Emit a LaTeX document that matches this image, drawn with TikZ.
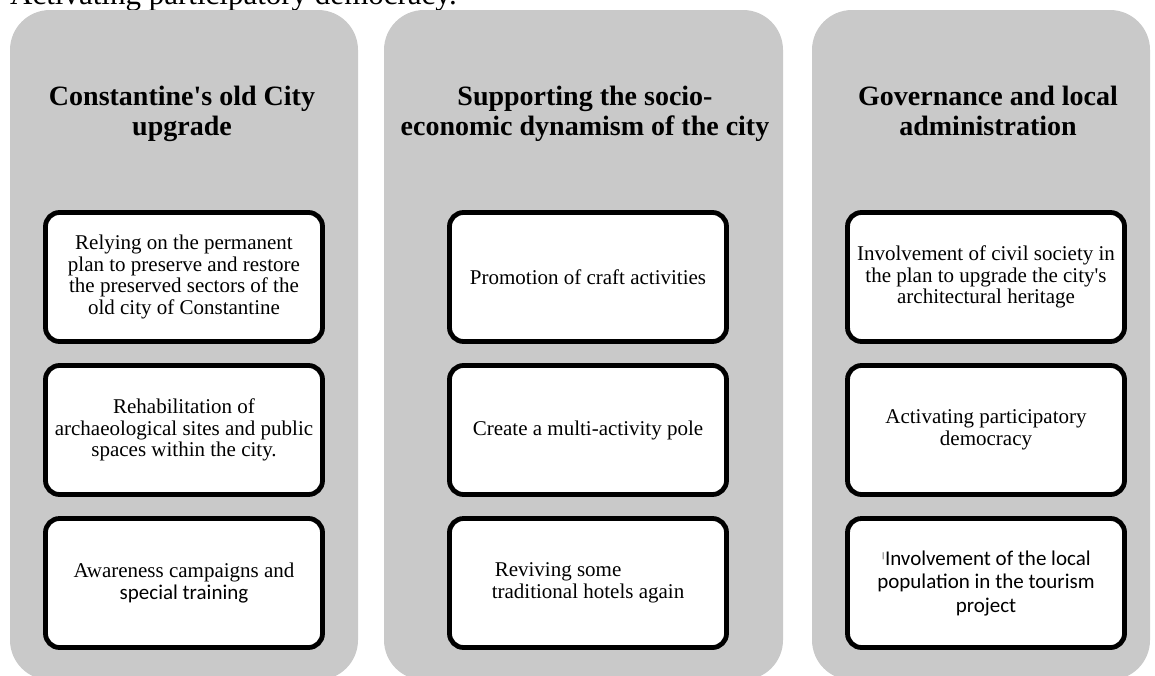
\documentclass[tikz,border=0pt]{standalone}
\usepackage{fontspec}
\setmainfont{Liberation Serif}[Ligatures=TeXOff]
\newfontfamily\calfont{Carlito}
\usetikzlibrary{positioning}
\definecolor{panelgray}{RGB}{201,201,201}

\begin{document}
\begin{tikzpicture}[x=1pt,y=-1pt,
    column/.style={fill=panelgray,rectangle,rounded corners=40pt,minimum height=670pt,inner sep=0pt,outer sep=0pt},
    head/.style={align=center,anchor=north,inner sep=0pt,font=\fontsize{28}{30}\selectfont\bfseries},
    item/.style={draw,line width=4.8pt,fill=white,rectangle,rounded corners=14pt,minimum width=277pt,minimum height=129pt,outer sep=0pt,align=center,font=\fontsize{21}{21.5}\selectfont},
    node distance=24pt]
  \useasboundingbox (0,0) rectangle (1155,675);

  % the three panels
  \node[column,minimum width=348pt] (col1) at (184,345) {};
  \node[column,minimum width=399pt] (col2) at (583.5,345) {};
  \node[column,minimum width=338pt] (col3) at (981,345) {};

  \begin{scope}
    \clip (0,0) rectangle (1155,9.5);
    \node[anchor=base west,inner sep=0pt,font=\fontsize{31}{33}\selectfont] (lead) at (10,4.5) {Activating participatory democracy.};
  \end{scope}

  \node[head] (head1) at (182,86) {Constantine's old City\\upgrade};
  \node[head] (head2) at (585,86) {Supporting the socio-\\economic dynamism of the city};
  \node[head] (head3) at (988,86) {Governance and local\\administration};

  % old city
  \node[item] (plan) at (184,277) {Relying on the permanent\\plan to preserve and restore\\the preserved sectors of the\\old city of Constantine};
  \node[item,below=of plan] (sites) {Rehabilitation of\\archaeological sites and public\\spaces within the city.};
  \node[item,below=of sites] (aware) {Awareness campaigns and\\{\calfont special training}};

  % socio-economic
  \node[item] (craft) at (588,277) {Promotion of craft activities};
  \node[item,below=of craft] (pole) {Create a multi-activity pole};
  \node[item,below=of pole,align=left] (hotel) {\hspace{3pt}Reviving some\\traditional hotels again};

  % governance
  \node[item] (civil) at (986,277) {Involvement of civil society in\\the plan to upgrade the city's\\architectural heritage};
  \node[item,below=of civil] (demo) {Activating participatory\\democracy};
  \node[item,below=of demo,font=\calfont\fontsize{21}{23.5}\selectfont] (local) {{\fontsize{8}{8}\selectfont\raisebox{7pt}{|}}Involvement of the local\\population in the tourism\\project};
\end{tikzpicture}
\end{document}
